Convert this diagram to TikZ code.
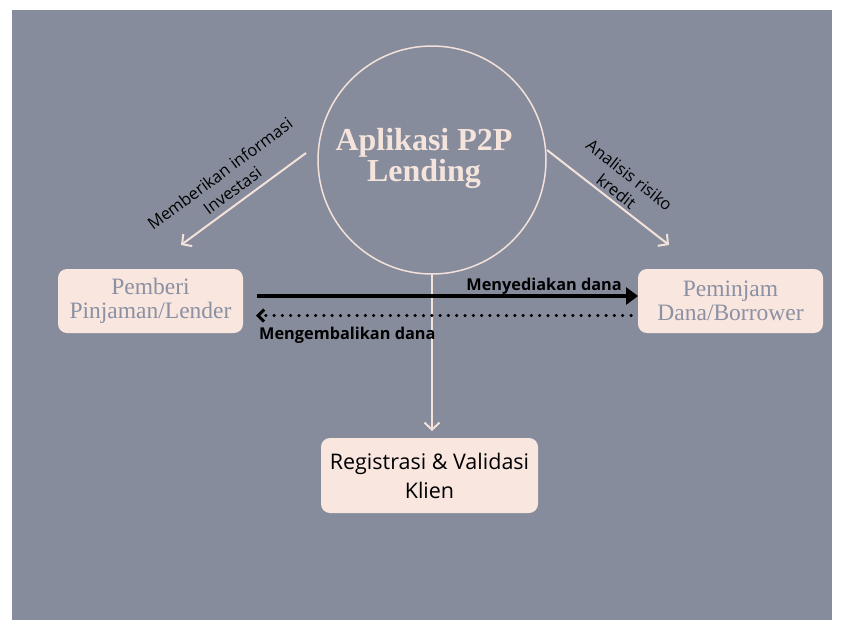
\documentclass[tikz,border=0pt]{standalone}
\usepackage{fontspec}
\setmainfont{Liberation Serif}
\newfontfamily\osans{Open Sans}
\usetikzlibrary{arrows.meta}
\definecolor{bg}{HTML}{878C9D}
\definecolor{pinkfill}{HTML}{F8E6DF}
\definecolor{pinkline}{HTML}{F3E2DA}
\definecolor{boxtext}{HTML}{8B90A2}
\definecolor{titletext}{HTML}{F5E4DC}
\tikzset{
  boxnode/.style={rectangle, rounded corners=9pt, fill=pinkfill, inner sep=0pt, align=center},
  sidebox/.style={boxnode, minimum width=185pt, minimum height=64pt, text=boxtext, font=\fontsize{23.5}{24.5}\selectfont},
  pinkarrow/.style={draw=pinkline, line width=2pt, -{Straight Barb[length=7pt,width=15pt,line width=2pt]}},
  edgelabel/.style={font=\osans\fontsize{16.5}{21}\selectfont, text=black, align=center, inner sep=0pt},
  boldlabel/.style={font=\osans\bfseries\fontsize{16.3}{18}\selectfont, text=black, inner sep=0pt},
}
\begin{document}
\begin{tikzpicture}[x=1pt,y=-1pt]
\useasboundingbox (0,0) rectangle (843,630);
\fill[white] (0,0) rectangle (843,630);
\fill[bg] (12,10) rectangle (832,620);
% central circle
\node[circle, draw=pinkline, line width=1.5pt, minimum size=228pt, inner sep=0pt] (app) at (432,160) {};
\node[font=\bfseries\fontsize{32}{31}\selectfont, text=titletext, align=center] (title) at (424,158) {Aplikasi P2P\\Lending};
% boxes
\node[sidebox] (lender) at (150.5,301) {Pemberi\\Pinjaman/Lender};
\node[sidebox] (borrower) at (730.5,301) {Peminjam\\Dana/Borrower};
\node[boxnode, minimum width=217pt, minimum height=75pt, text=black, font=\osans\fontsize{21.5}{29}\selectfont] (reg) at (429.5,475.5) {Registrasi \& Validasi\\Klien};
% connector end points
\coordinate (l1) at (306,153);
\coordinate (l2) at (181,245);
\coordinate (r1) at (547,150);
\coordinate (r2) at (669,245);
\coordinate (v1) at (432,274);
\coordinate (v2) at (432,431);
\coordinate (s1) at (257,296);
\coordinate (s2) at (638,296);
\coordinate (d1) at (631,315.5);
\coordinate (d2) at (256,315.5);
% diagonal arrows
\draw[pinkarrow] (l1) -- (l2);
\draw[pinkarrow] (r1) -- (r2);
\draw[pinkarrow] (v1) -- (v2);
\node[edgelabel, rotate=36.5] (lab1) at (226,182) {Memberikan informasi\\Investasi};
\node[edgelabel, rotate=-38] (lab2) at (623,183) {Analisis risiko\\kredit};
% horizontal arrows
\draw[line width=4pt, -{Triangle[length=12pt,width=17pt]}] (s1) -- (s2);
\draw[line width=3.5pt, line cap=round, dash pattern=on 0pt off 8.3pt, -{Straight Barb[length=6pt,width=12pt,line width=3pt]}] (d1) -- (d2);
\node[boldlabel, anchor=base east] (lab3) at (622,290) {Menyediakan dana};
\node[boldlabel, anchor=base west] (lab4) at (259,339) {Mengembalikan dana};
\end{tikzpicture}
\end{document}
